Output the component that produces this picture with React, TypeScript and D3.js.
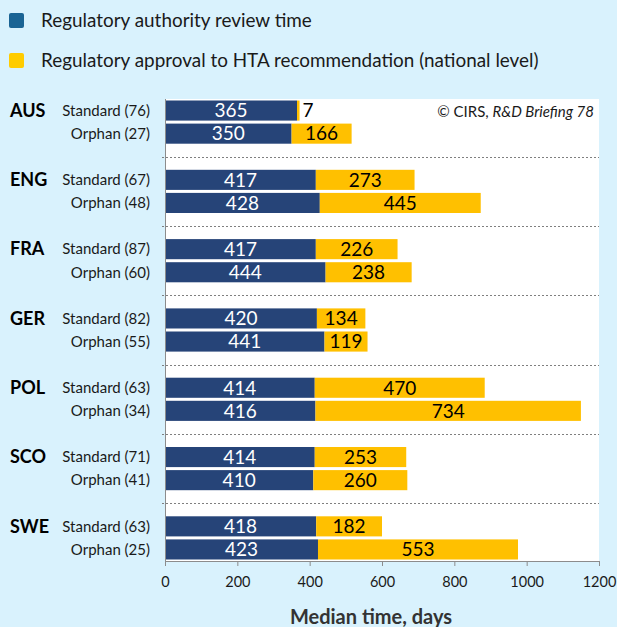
import { useEffect, useRef } from 'react';
import * as d3 from 'd3';

// Median time from regulatory review to HTA recommendation, per country
const countries = ['AUS', 'ENG', 'FRA', 'GER', 'POL', 'SCO', 'SWE'];
const standardN = [76, 67, 87, 82, 63, 71, 63];
const orphanN = [27, 48, 60, 55, 34, 41, 25];
const standardReview = [365, 417, 417, 420, 414, 414, 418];
const standardHta = [7, 273, 226, 134, 470, 253, 182];
const orphanReview = [350, 428, 444, 441, 416, 410, 423];
const orphanHta = [166, 445, 238, 119, 734, 260, 553];
const xTicks = [0, 200, 400, 600, 800, 1000, 1200];
const legendLabels = [
    'Regulatory authority review time',
    'Regulatory approval to HTA recommendation (national level)',
];

const W = 617;
const H = 627;
const FONT = 'Lato, "Open Sans", sans-serif';
const BLUE = '#264478';
const YELLOW = '#ffc000';
const LEGEND_BLUE = '#1a6494';
const BG = '#d9f2fd';

export default function App() {
    const ref = useRef<SVGSVGElement>(null);

    useEffect(() => {
        const svg = d3.select(ref.current);
        svg.selectAll('*').remove();

        const plot = { left: 165, right: 599, top: 99, bottom: 561 };

        // rows: standard, orphan, blank spacer between groups
        const rows: string[] = [];
        countries.forEach((c, i) => {
            rows.push(c + '-S', c + '-O');
            if (i < countries.length - 1) rows.push(c + '-gap');
        });

        const x = d3.scaleLinear().domain([0, 1200]).range([plot.left, plot.right]);
        const y = d3.scaleBand<string>()
            .domain(rows)
            .range([plot.top, plot.bottom])
            .paddingInner(0.13)
            .paddingOuter(0.065);

        svg.append('rect')
            .attr('width', W).attr('height', H).attr('fill', BG);

        svg.append('rect')
            .attr('x', plot.left).attr('y', plot.top)
            .attr('width', plot.right - plot.left).attr('height', plot.bottom - plot.top)
            .attr('fill', '#fff');

        // legend
        const legend = svg.append('g');
        [LEGEND_BLUE, '#ffcc00'].forEach((col, i) => {
            const ly = 20 + i * 40;
            legend.append('rect')
                .attr('x', 9).attr('y', ly - 7).attr('width', 15).attr('height', 15)
                .attr('rx', 2).attr('fill', col);
            legend.append('text')
                .attr('x', 41).attr('y', ly).attr('dy', '0.35em')
                .attr('font-size', 18.9).attr('fill', '#1a1a1a')
                .text(legendLabels[i]);
        });

        // dotted separators in the spacer rows
        countries.slice(0, -1).forEach(c => {
            const sy = Math.round(y(c + '-gap')! + y.bandwidth() / 2) + 0.5;
            svg.append('line')
                .attr('x1', plot.left - 3).attr('x2', plot.right)
                .attr('y1', sy).attr('y2', sy)
                .attr('stroke', '#7f7f7f').attr('stroke-width', 1)
                .attr('stroke-dasharray', '2,2');
        });

        const bars = countries.flatMap((c, i) => [
            { key: c + '-S', label: `Standard (${standardN[i]})`, review: standardReview[i], hta: standardHta[i] },
            { key: c + '-O', label: `Orphan (${orphanN[i]})`, review: orphanReview[i], hta: orphanHta[i] },
        ]);

        const g = svg.append('g');
        bars.forEach(b => {
            const by = y(b.key)!;
            const bh = y.bandwidth();
            const cy = by + bh / 2;

            g.append('rect')
                .attr('x', x(0)).attr('y', by)
                .attr('width', x(b.review) - x(0)).attr('height', bh)
                .attr('fill', BLUE);
            g.append('rect')
                .attr('x', x(b.review)).attr('y', by)
                .attr('width', x(b.review + b.hta) - x(b.review)).attr('height', bh)
                .attr('fill', YELLOW);

            g.append('text')
                .attr('x', (x(0) + x(b.review)) / 2).attr('y', cy).attr('dy', '0.36em')
                .attr('text-anchor', 'middle').attr('font-size', 19).attr('fill', '#fff')
                .text(b.review);

            const small = x(b.review + b.hta) - x(b.review) < 30;
            g.append('text')
                .attr('x', small ? x(b.review + b.hta) + 3 : (x(b.review) + x(b.review + b.hta)) / 2)
                .attr('y', cy).attr('dy', '0.36em')
                .attr('text-anchor', small ? 'start' : 'middle')
                .attr('font-size', 19).attr('fill', '#000')
                .text(b.hta);

            svg.append('text')
                .attr('x', 150).attr('y', cy).attr('dy', '0.35em')
                .attr('text-anchor', 'end').attr('font-size', 15).attr('fill', '#1a1a1a')
                .text(b.label);
        });

        countries.forEach(c => {
            svg.append('text')
                .attr('x', 10).attr('y', y(c + '-S')! + y.bandwidth() / 2).attr('dy', '0.35em')
                .attr('font-size', 18).attr('font-weight', 'bold').attr('fill', '#000')
                .text(c);
        });

        // axes
        svg.append('line')
            .attr('x1', plot.left + 0.5).attr('x2', plot.left + 0.5)
            .attr('y1', plot.top).attr('y2', plot.bottom)
            .attr('stroke', '#8c8c8c');

        const xAxis = svg.append('g')
            .attr('transform', `translate(0,${plot.bottom})`)
            .call(d3.axisBottom(x).tickValues(xTicks).tickSize(5).tickPadding(11).tickFormat(d3.format('d')));
        xAxis.select('.domain').attr('stroke', '#8c8c8c');
        xAxis.selectAll('.tick line').attr('stroke', '#8c8c8c');
        xAxis.selectAll('.tick text')
            .attr('font-family', FONT).attr('font-size', 14.5).attr('fill', '#1a1a1a');

        svg.append('text')
            .attr('x', (plot.left + plot.right) / 2 - 11).attr('y', 624)
            .attr('text-anchor', 'middle').attr('font-size', 20).attr('font-weight', 'bold')
            .attr('fill', '#333')
            .text('Median time, days');

        const credit = svg.append('text')
            .attr('x', 594).attr('y', 112).attr('dy', '0.35em')
            .attr('text-anchor', 'end').attr('font-size', 15).attr('fill', '#1a1a1a');
        credit.append('tspan').text('© CIRS, ');
        credit.append('tspan').attr('font-style', 'italic').text('R&D Briefing 78');
    }, []);

    return (
        <svg
            ref={ref}
            width={W}
            height={H}
            fontFamily={FONT}
            style={{ position: 'absolute', left: 0, top: 0 }}
        />
    );
}
